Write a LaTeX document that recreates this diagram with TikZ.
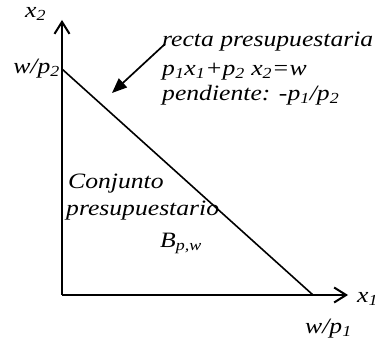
\documentclass[tikz,border=0pt]{standalone}
\usepackage{fontspec}
\setmainfont{Liberation Serif}[FakeStretch=1.17]
\usetikzlibrary{arrows.meta}
\begin{document}
\begin{tikzpicture}[x=1bp,y=1bp,
  lbl/.style={inner sep=0pt, font=\fontsize{22}{26}\selectfont\itshape},
  axis/.style={line width=2bp, -{Straight Barb[length=12bp,width=15bp,line width=2bp]}},
  budget/.style={line width=1.6bp},
  pointer/.style={line width=1.7bp, -{Triangle[length=15bp,width=12bp]}}]
\useasboundingbox (0,0) rectangle (375,343);
\coordinate (O) at (62,48);
\coordinate (Ytop) at (62,323);
\coordinate (Xend) at (348,48);
\coordinate (A) at (62,274);
\coordinate (B) at (313,48);
\draw[axis] (O) -- (Ytop);
\draw[axis] (O) -- (Xend);
\draw[budget] (A) -- (B);
\node[lbl, anchor=base west] (x2) at (25,326) {x\textsubscript{2}};
\node[lbl, anchor=base east] (wp2) at (60,270) {w/p\textsubscript{2}};
\node[lbl, anchor=base west] (l1) at (162,297) {recta presupuestaria};
\node[lbl, anchor=base west] (l2) at (162,268) {p\textsubscript{1}x\textsubscript{1}+p\textsubscript{2} x\textsubscript{2}=w};
\node[lbl, anchor=base west] (l3) at (162,243) {pendiente: -p\textsubscript{1}/p\textsubscript{2}};
\node[lbl, anchor=base west] (c1) at (68,155) {Conjunto};
\node[lbl, anchor=base west] (c2) at (66,128) {presupuestario};
\node[lbl, anchor=base west] (bpw) at (160,96) {B\textsubscript{p,w}};
\node[lbl, anchor=base west] (x1) at (357,41) {x\textsubscript{1}};
\node[lbl, anchor=base west] (wp1) at (305,10) {w/p\textsubscript{1}};
\coordinate (ps) at (165,299);
\coordinate (pe) at (112,250);
\draw[pointer] (ps) -- (pe);
\end{tikzpicture}
\end{document}
